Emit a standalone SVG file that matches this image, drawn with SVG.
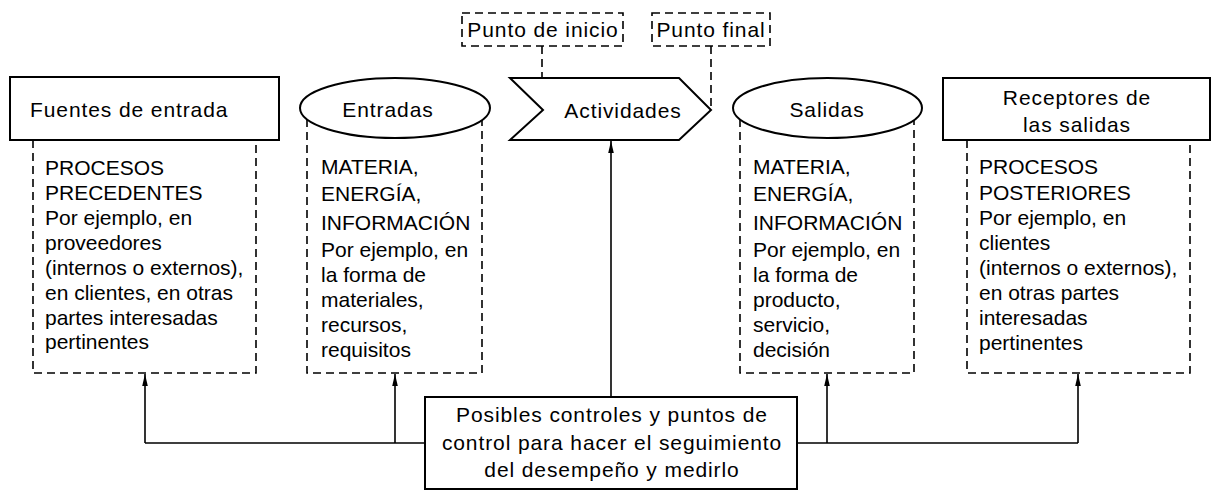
<svg xmlns="http://www.w3.org/2000/svg" width="1212" height="491" viewBox="0 0 1212 491">
<style>
.solid{fill:#fff;stroke:#000;stroke-width:2}
.dash{fill:none;stroke:#000;stroke-width:1.6;stroke-dasharray:8 5}
.dashbox{fill:#fff;stroke:#000;stroke-width:1.6;stroke-dasharray:8 5}
.conn{fill:none;stroke:#000;stroke-width:1.6}
text{font-family:"Liberation Sans",Arial,sans-serif;font-size:21px;fill:#000}
.lbl{letter-spacing:0.9px}
.mid{text-anchor:middle}
</style>
<defs>
<marker id="ah" viewBox="0 0 12 8" refX="12" refY="4" markerWidth="12" markerHeight="8" markerUnits="userSpaceOnUse" orient="auto">
<path d="M0,1.2 L12,4 L0,6.8 Z" fill="#000"/>
</marker>
</defs>
<g id="connectors">
<path class="conn" d="M145,443 H425 M797,443 H1078"/>
<path class="conn" d="M145,443 V374" marker-end="url(#ah)"/>
<path class="conn" d="M395,443 V374" marker-end="url(#ah)"/>
<path class="conn" d="M827,443 V374" marker-end="url(#ah)"/>
<path class="conn" d="M1078,443 V374" marker-end="url(#ah)"/>
<path class="conn" d="M611,397 V141" marker-end="url(#ah)"/>
<path class="dash" d="M542,46 V110"/>
<path class="dash" d="M711,46 V110"/>
</g>
<g id="fuentes">
<path class="dash" d="M33,140 V373 H256 V140"/>
<rect class="solid" x="10" y="77" width="269" height="63"/>
<text class="lbl" x="30" y="117">Fuentes de entrada</text>
<text x="45" y="175">PROCESOS</text>
<text x="45" y="200">PRECEDENTES</text>
<text x="45" y="225">Por ejemplo, en</text>
<text x="45" y="250">proveedores</text>
<text x="45" y="275">(internos o externos),</text>
<text x="45" y="300">en clientes, en otras</text>
<text x="45" y="325">partes interesadas</text>
<text x="45" y="349">pertinentes</text>
</g>
<g id="entradas">
<path class="dash" d="M307,119 V373 H482 V119"/>
<ellipse class="solid" cx="395" cy="108" rx="95" ry="30"/>
<text class="lbl mid" x="388" y="117">Entradas</text>
<text x="321" y="174">MATERIA,</text>
<text x="321" y="201">ENERGÍA,</text>
<text x="321" y="230">INFORMACIÓN</text>
<text x="321" y="257">Por ejemplo, en</text>
<text x="321" y="282">la forma de</text>
<text x="321" y="307">materiales,</text>
<text x="321" y="332">recursos,</text>
<text x="321" y="357">requisitos</text>
</g>
<g id="actividades">
<polygon class="solid" points="510,78 679,78 711,110 679,140 510,140 543,110"/>
<text class="lbl mid" x="623" y="118">Actividades</text>
</g>
<g id="inicio">
<rect class="dashbox" x="462" y="13" width="161" height="33"/>
<text class="lbl mid" x="543" y="37">Punto de inicio</text>
</g>
<g id="final">
<rect class="dashbox" x="652" y="13" width="118" height="33"/>
<text class="lbl mid" x="711" y="37">Punto final</text>
</g>
<g id="salidas">
<path class="dash" d="M740,119 V373 H914 V119"/>
<ellipse class="solid" cx="827.5" cy="108" rx="94.5" ry="30"/>
<text class="lbl mid" x="827" y="117">Salidas</text>
<text x="753" y="174">MATERIA,</text>
<text x="753" y="201">ENERGÍA,</text>
<text x="753" y="230">INFORMACIÓN</text>
<text x="753" y="257">Por ejemplo, en</text>
<text x="753" y="282">la forma de</text>
<text x="753" y="307">producto,</text>
<text x="753" y="332">servicio,</text>
<text x="753" y="357">decisión</text>
</g>
<g id="receptores">
<path class="dash" d="M967,140 V373 H1190 V140"/>
<rect class="solid" x="943" y="78" width="267" height="62"/>
<text class="lbl mid" x="1077" y="105">Receptores de</text>
<text class="lbl mid" x="1077" y="132">las salidas</text>
<text x="979" y="174">PROCESOS</text>
<text x="979" y="200">POSTERIORES</text>
<text x="979" y="225">Por ejemplo, en</text>
<text x="979" y="250">clientes</text>
<text x="979" y="275">(internos o externos),</text>
<text x="979" y="300">en otras partes</text>
<text x="979" y="325">interesadas</text>
<text x="979" y="350">pertinentes</text>
</g>
<g id="controles">
<rect class="solid" x="425" y="397" width="372" height="92"/>
<text class="lbl mid" x="612" y="422">Posibles controles y puntos de</text>
<text class="lbl mid" x="612" y="450">control para hacer el seguimiento</text>
<text class="lbl mid" x="612" y="477">del desempeño y medirlo</text>
</g>
</svg>
